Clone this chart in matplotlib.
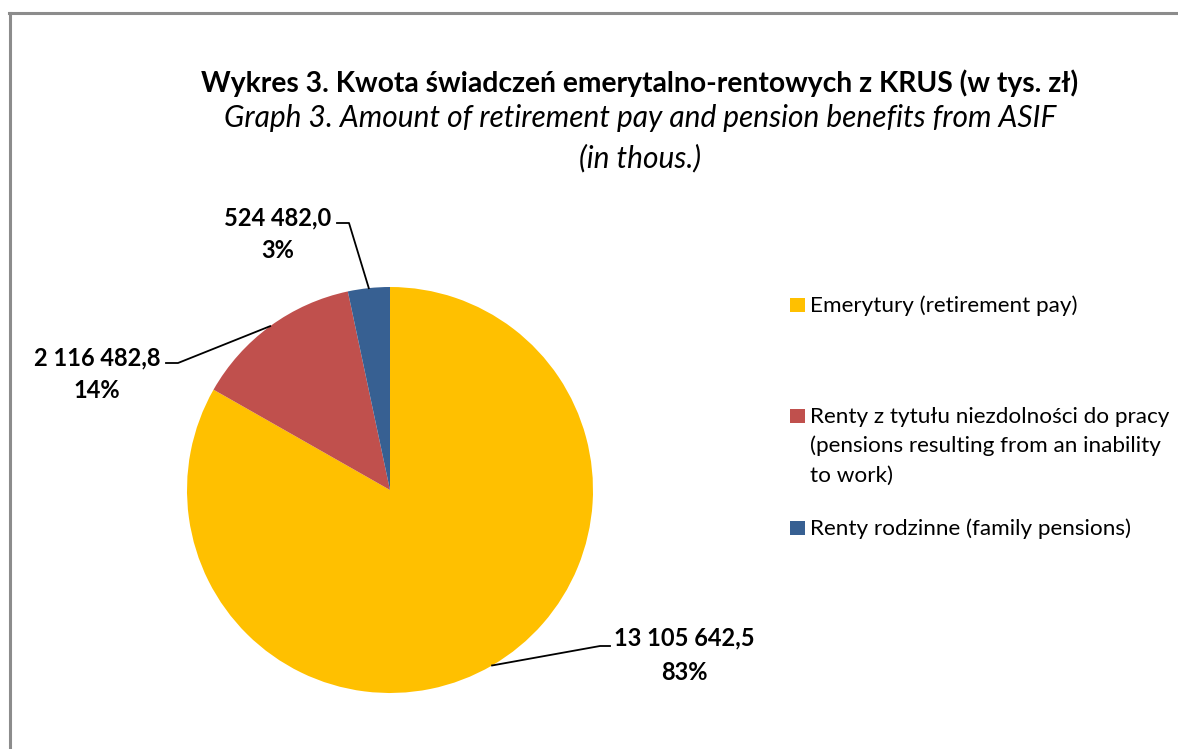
import numpy as np
import matplotlib
matplotlib.use("Agg")
import matplotlib.pyplot as plt
from matplotlib.lines import Line2D
from matplotlib.patches import Rectangle

# ---- data ----
categories = ["Emerytury (retirement pay)",
              "Renty z tytułu niezdolności do pracy\n(pensions resulting from an inability\nto work)",
              "Renty rodzinne (family pensions)"]
values = [13105642.5, 2116482.8, 524482.0]
value_labels = ["13 105 642,5", "2 116 482,8", "524 482,0"]
pct_labels = ["83%", "14%", "3%"]
colors = ["#FFC000", "#C0504D", "#376092"]

title_pl = "Wykres 3. Kwota świadczeń emerytalno-rentowych z KRUS (w tys. zł)"
title_en = ["Graph 3. Amount of retirement pay and pension benefits from ASIF",
            "(in thous.)"]

W, H = 1178, 749
FONT = "Lato"
plt.rcParams['font.family'] = [FONT, 'DejaVu Sans']

fig = plt.figure(figsize=(W / 100, H / 100), dpi=100)

def fx(x):
    return x / W

def fy(y):
    return 1 - y / H

# border (top & left visible)
fig.add_artist(Line2D([fx(10), fx(10)], [fy(13), fy(H + 5)], color="#8c8c8c", lw=2.2, transform=fig.transFigure))
fig.add_artist(Line2D([fx(9), fx(W + 5)], [fy(13), fy(13)], color="#8c8c8c", lw=2.2, transform=fig.transFigure))

# pie axes
cx, cy, r = 390, 490, 203
ax = fig.add_axes([fx(cx - r), fy(cy + r), 2 * r / W, 2 * r / H])
wedges, _ = ax.pie(values, colors=colors, startangle=90, counterclock=False,
                   wedgeprops=dict(linewidth=0))
ax.set_xlim(-1, 1)
ax.set_ylim(-1, 1)
ax.set_aspect("auto")
ax.axis("off")

# titles
fig.text(fx(640), fy(92), title_pl, ha="center", va="baseline", fontsize=20.3,
         fontweight="bold", color="black")
for line, yb in zip(title_en, [127, 167]):
    fig.text(fx(640), fy(yb), line, ha="center", va="baseline", fontsize=21.5,
             fontstyle="italic", color="black")

# data labels
# label layout: (text center x, first baseline y, second baseline y, elbow x, elbow y, end x)
layout = [
    (684, 645, 680, 600, 646, 610),
    (97, 365, 398, 178, 363, 166),
    (278, 225, 258, 349, 223, 337),
]
for w, lbl, pct, (tx, b1, b2, ex, ey, hx) in zip(wedges, value_labels, pct_labels, layout):
    mid = np.deg2rad((w.theta1 + w.theta2) / 2)
    disp = ax.transData.transform((np.cos(mid), np.sin(mid)))
    px, py = disp[0], H - disp[1]
    fig.add_artist(Line2D([fx(px), fx(ex), fx(hx)], [fy(py), fy(ey), fy(ey)],
                          color="black", lw=1.3, transform=fig.transFigure))
    fig.text(fx(tx), fy(b1), lbl, ha="center", va="baseline", fontsize=17,
             fontweight="bold")
    fig.text(fx(tx), fy(b2), pct, ha="center", va="baseline", fontsize=17,
             fontweight="bold")

# legend
leg_base = [312, 423, 535]
line_step = 29.5
for col, lab, yb in zip(colors, categories, leg_base):
    fig.add_artist(Rectangle((fx(790), fy(yb)), 15 / W, 14 / H, facecolor=col,
                             edgecolor="none", transform=fig.transFigure))
    for i, part in enumerate(lab.split("\n")):
        fig.text(fx(810), fy(yb + i * line_step), part, ha="left", va="baseline",
                 fontsize=16.2, color="black")

fig.savefig("out.png", dpi=100)
